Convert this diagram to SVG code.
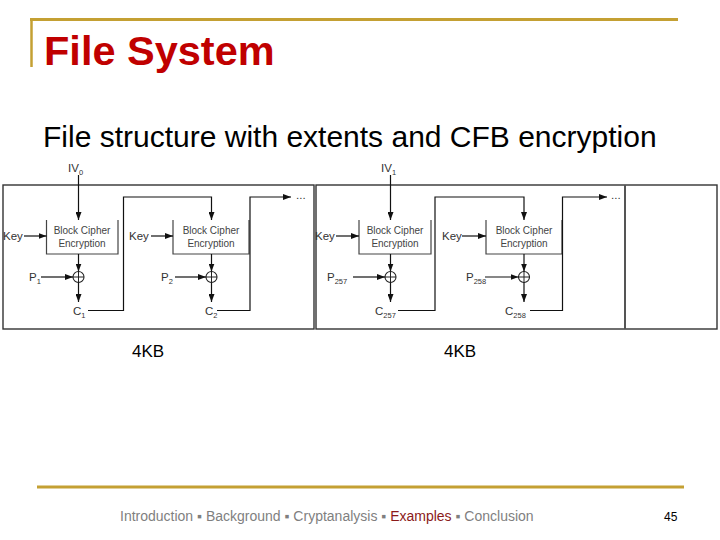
<svg xmlns="http://www.w3.org/2000/svg" width="720" height="540" viewBox="0 0 720 540">
<style>
text{font-family:"Liberation Sans",Arial,sans-serif}
.gold{stroke:#C4A033;fill:none}
.frame{fill:none;stroke:#333;stroke-width:1.4}
.box{fill:#fff;stroke:#444;stroke-width:1.2}
.ln{fill:none;stroke:#111;stroke-width:1.2}
.arr{fill:none;stroke:#111;stroke-width:1.2;marker-end:url(#ah)}
.bc{font-size:10px;fill:#444;text-anchor:middle}
.lbl{font-size:11.5px;fill:#333}
.sub{font-size:7.5px}
.xor{fill:#fff;stroke:#222;stroke-width:1.1}
</style>
<defs>
<marker id="ah" markerUnits="userSpaceOnUse" markerWidth="8" markerHeight="6" refX="8" refY="3" orient="auto">
<path d="M0,0 L8,3 L0,6 z" fill="#111"/>
</marker>
<g id="xorsym">
<circle cx="0" cy="0" r="5.5" class="xor"/>
<path d="M-5.5,0 H5.5 M0,-5.5 V5.5" stroke="#222" stroke-width="1"/>
</g>
</defs>
<rect width="720" height="540" fill="#fff"/>

<g id="header">
<path class="gold" d="M30,19.5 H678" stroke-width="3"/>
<path class="gold" d="M31.5,19 V67" stroke-width="2.5"/>
<text x="44" y="65" font-size="41.5" font-weight="bold" fill="#C00000">File System</text>
<text x="43" y="147" font-size="30" fill="#000">File structure with extents and CFB encryption</text>
</g>

<g id="frames">
<rect class="frame" x="3" y="185" width="311" height="144"/>
<rect class="frame" x="316" y="185" width="401" height="144"/>
<path d="M625,185 V329" stroke="#555" stroke-width="2" fill="none"/>
</g>

<g id="cipher1">
<path class="box" d="M46.5,220 V254 H118 V220"/>
<text class="bc" x="82" y="234">Block Cipher</text>
<text class="bc" x="82" y="246.5">Encryption</text>
</g>
<g id="cipher2">
<path class="box" d="M173,220 V254 H249 V220"/>
<text class="bc" x="211" y="234">Block Cipher</text>
<text class="bc" x="211" y="246.5">Encryption</text>
</g>
<g id="cipher3">
<path class="box" d="M359,220 V254 H431 V220"/>
<text class="bc" x="395" y="234">Block Cipher</text>
<text class="bc" x="395" y="246.5">Encryption</text>
</g>
<g id="cipher4">
<path class="box" d="M486,220 V254 H562 V220"/>
<text class="bc" x="524" y="234">Block Cipher</text>
<text class="bc" x="524" y="246.5">Encryption</text>
</g>

<g id="xor1"><use href="#xorsym" x="78.5" y="277"/></g>
<g id="xor2"><use href="#xorsym" x="211.5" y="277"/></g>
<g id="xor3"><use href="#xorsym" x="390.5" y="277"/></g>
<g id="xor4"><use href="#xorsym" x="524" y="277"/></g>

<g id="labels">
<text class="lbl" x="68" y="172">IV<tspan class="sub" dy="2.5">0</tspan></text>
<text class="lbl" x="381" y="172">IV<tspan class="sub" dy="2.5">1</tspan></text>
<text class="lbl" x="3" y="240">Key</text>
<text class="lbl" x="129" y="240">Key</text>
<text class="lbl" x="315" y="240">Key</text>
<text class="lbl" x="442" y="240">Key</text>
<text class="lbl" x="29" y="281">P<tspan class="sub" dy="2.5">1</tspan></text>
<text class="lbl" x="161" y="281">P<tspan class="sub" dy="2.5">2</tspan></text>
<text class="lbl" x="327" y="281">P<tspan class="sub" dy="2.5">257</tspan></text>
<text class="lbl" x="466" y="281">P<tspan class="sub" dy="2.5">258</tspan></text>
<text class="lbl" x="73" y="315">C<tspan class="sub" dy="2.5">1</tspan></text>
<text class="lbl" x="205" y="315">C<tspan class="sub" dy="2.5">2</tspan></text>
<text class="lbl" x="375" y="315">C<tspan class="sub" dy="2.5">257</tspan></text>
<text class="lbl" x="505" y="315">C<tspan class="sub" dy="2.5">258</tspan></text>
<text class="lbl" x="296" y="199">...</text>
<text class="lbl" x="611" y="199">...</text>
</g>

<g id="connectors">
<path class="arr" d="M78.5,175 V220"/>
<path class="arr" d="M24,236 H46.5"/>
<path class="arr" d="M78.5,254 V271.5"/>
<path class="arr" d="M41,277 H73"/>
<path class="arr" d="M78.5,282.5 V302"/>
<path class="arr" d="M88,310.5 H123.5 V197 H211.5 V220"/>
<path class="arr" d="M151,236 H173"/>
<path class="arr" d="M211.5,254 V271.5"/>
<path class="arr" d="M175,277 H206"/>
<path class="arr" d="M211.5,282.5 V302"/>
<path class="arr" d="M217,310.5 H250 V197 H291"/>

<path class="arr" d="M390.5,175 V220"/>
<path class="arr" d="M336,236 H359"/>
<path class="arr" d="M390.5,254 V271.5"/>
<path class="arr" d="M353,277 H385"/>
<path class="arr" d="M390.5,282.5 V302"/>
<path class="arr" d="M398,310.5 H435 V197 H524 V220"/>
<path class="arr" d="M462,236 H486"/>
<path class="arr" d="M524,254 V271.5"/>
<path class="arr" d="M485,277 H518.5"/>
<path class="arr" d="M524,282.5 V302"/>
<path class="arr" d="M530,310.5 H562.5 V197 H607"/>
</g>

<g id="sizes">
<text x="132" y="356.5" font-size="17" fill="#000">4KB</text>
<text x="444" y="356.5" font-size="17" fill="#000">4KB</text>
</g>

<g id="footer">
<path class="gold" d="M37,487 H684" stroke-width="3"/>
<text x="120" y="521" font-size="14" fill="#7f7f7f">Introduction ▪ Background ▪ Cryptanalysis ▪ <tspan fill="#8B1A1A">Examples</tspan> ▪ Conclusion</text>
<text x="664" y="521" font-size="12" fill="#000">45</text>
</g>
</svg>
